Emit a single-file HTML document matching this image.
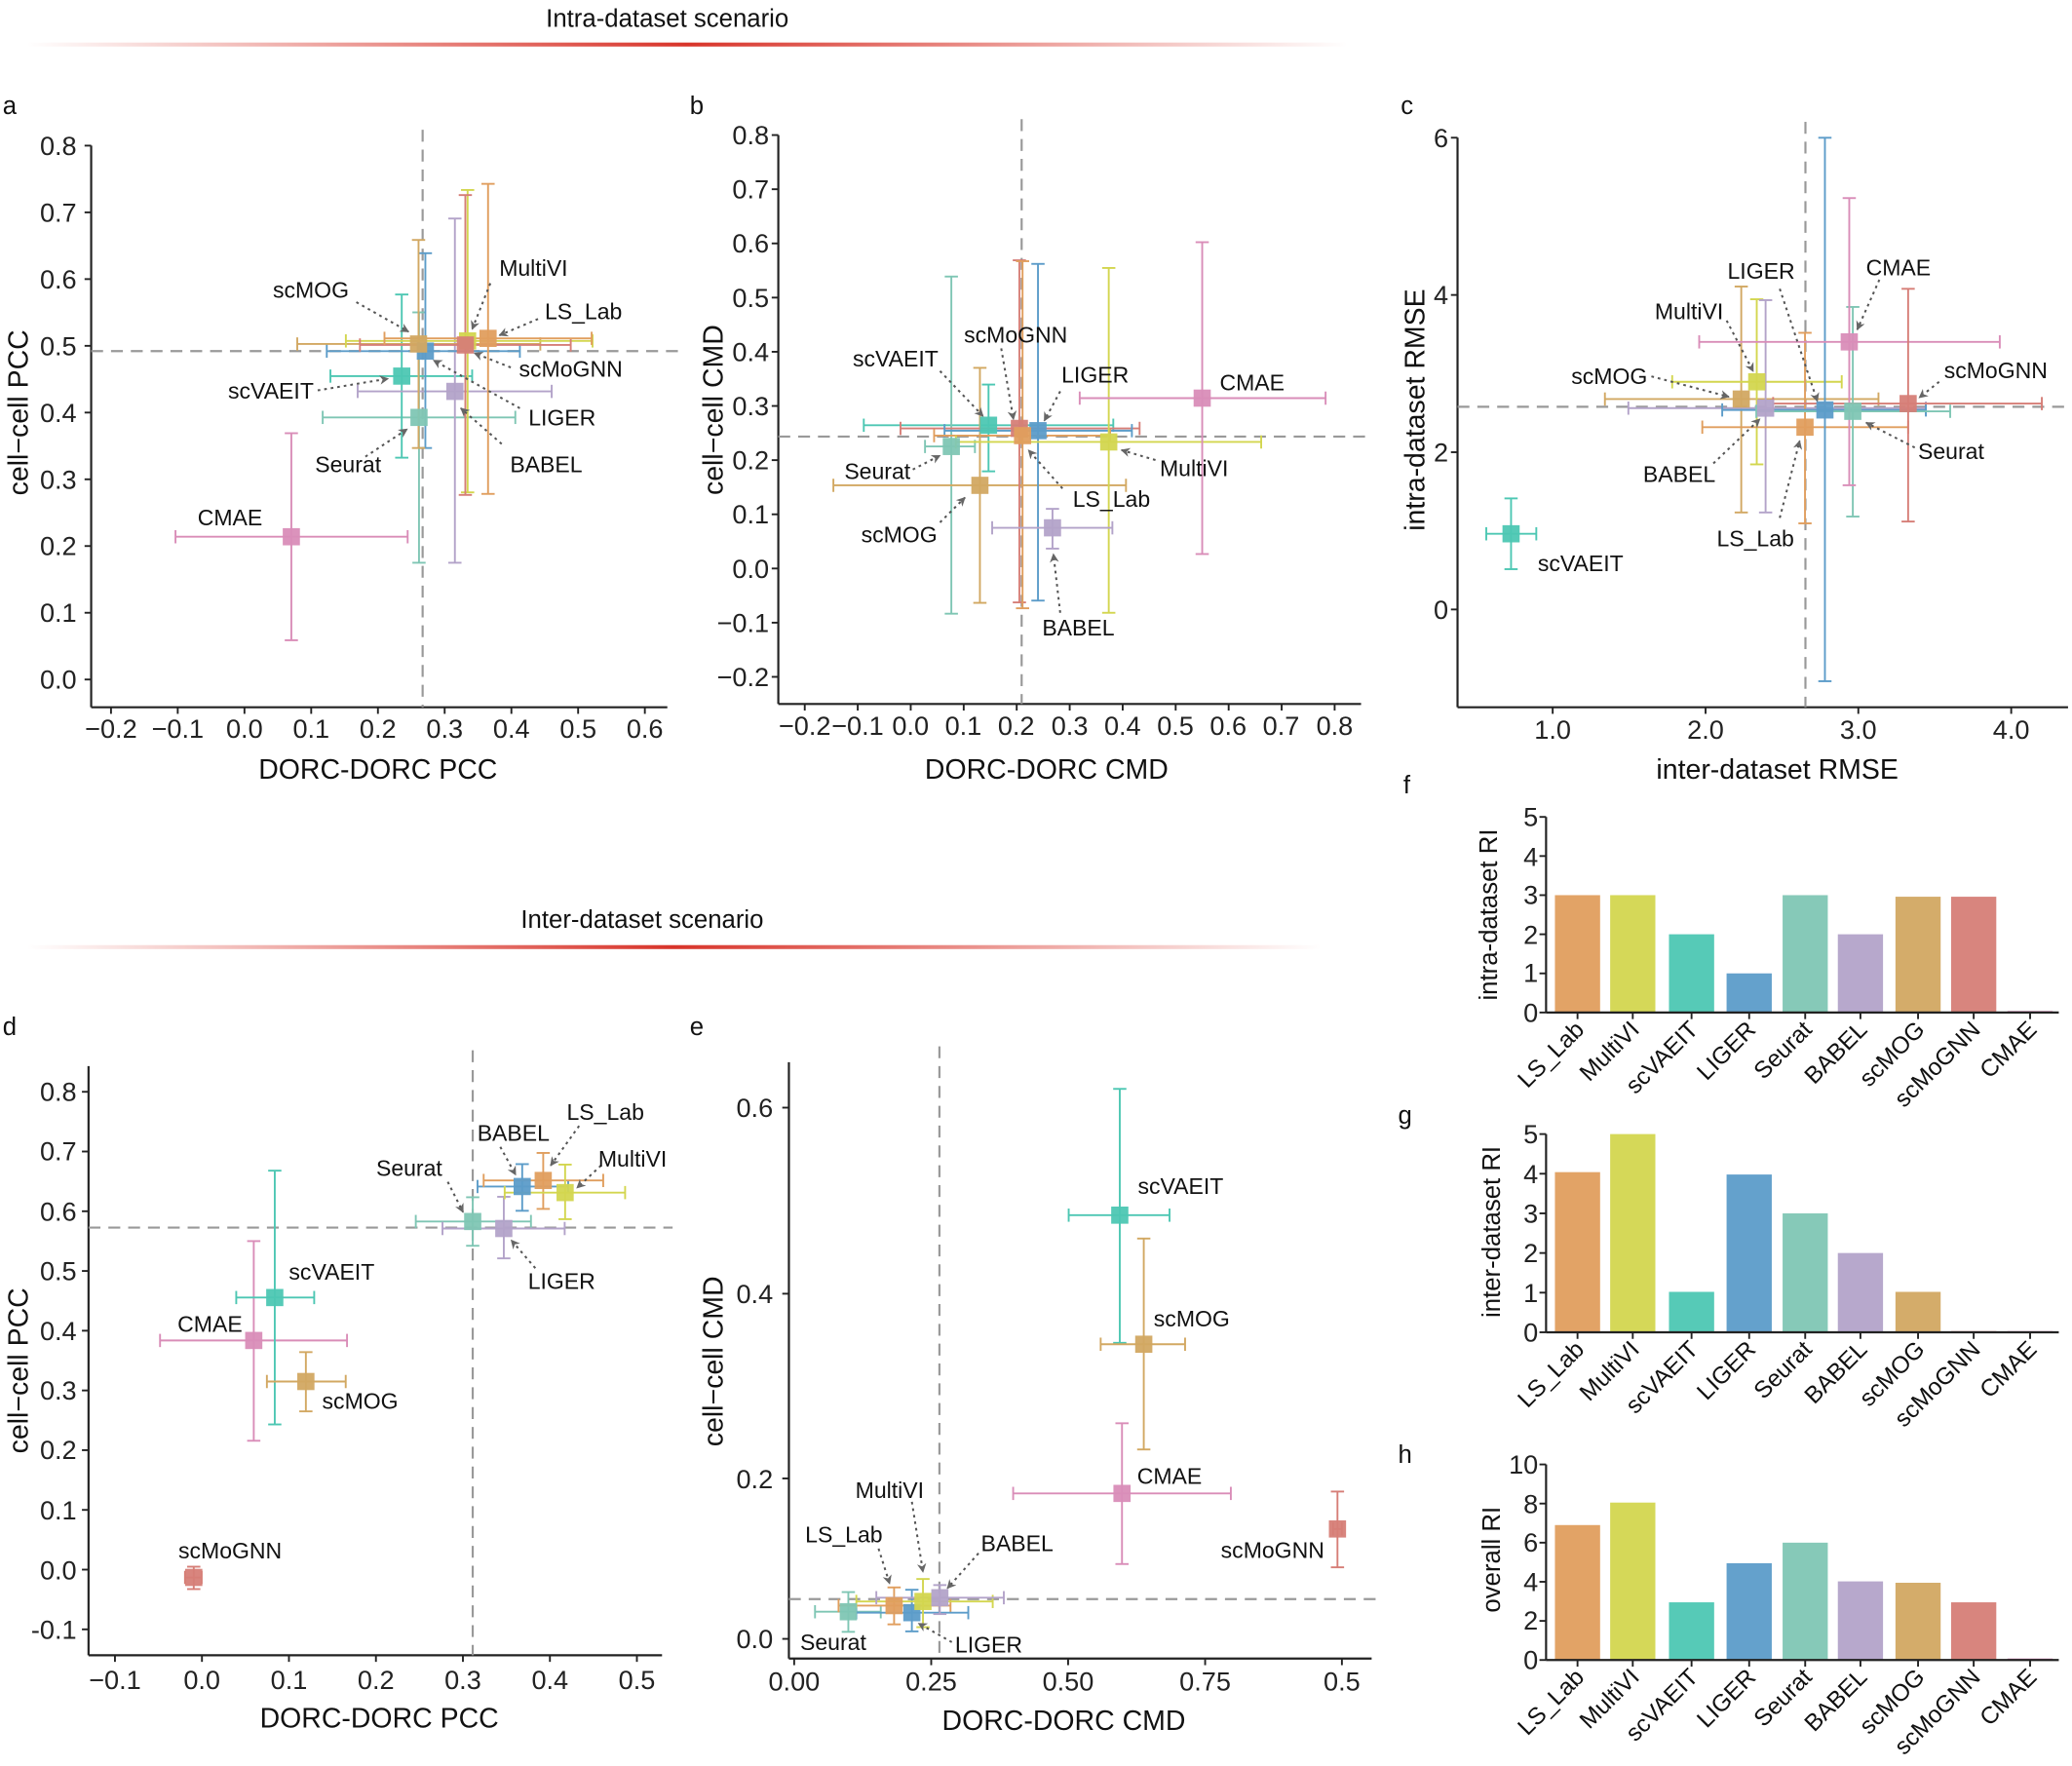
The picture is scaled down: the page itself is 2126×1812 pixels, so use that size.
<!DOCTYPE html>
<html><head><meta charset="utf-8"><style>
body{margin:0;background:#fff}
svg{display:block;font-family:"Liberation Sans",Arial,sans-serif}
.t{font-size:20px;fill:#222}
.lab{font-size:17px;fill:#111}
#bl text{font-size:18px}
.at{font-size:21px;fill:#111}
.pl{font-size:19px;fill:#111}
</style></head><body>
<svg id="s" width="2126" height="1812" viewBox="0 0 1568 1336" xmlns="http://www.w3.org/2000/svg">
<defs>
<linearGradient id="gr" x1="0" x2="1" y1="0" y2="0"><stop offset="0" stop-color="#d8342a" stop-opacity="0"/><stop offset="0.5" stop-color="#d8342a"/><stop offset="1" stop-color="#d8342a" stop-opacity="0"/></linearGradient>
<marker id="ar" viewBox="0 0 10 10" refX="9" refY="5" markerWidth="7" markerHeight="7" orient="auto" markerUnits="userSpaceOnUse"><path d="M0,0 L10,5 L0,10 L3,5 z" fill="#666"/></marker>
</defs>
<rect width="1568" height="1336" fill="#fff"/>
<text x="505" y="20" text-anchor="middle" style="font-size:19px" fill="#111">Intra-dataset scenario</text>
<rect x="20" y="32" width="1000" height="3" fill="url(#gr)"/>
<text x="486" y="702" text-anchor="middle" style="font-size:19px" fill="#111">Inter-dataset scenario</text>
<rect x="20" y="715" width="980" height="3" fill="url(#gr)"/>

<g class="pl">
<text x="2" y="86">a</text><text x="522" y="86">b</text><text x="1060" y="86">c</text><text x="1062" y="600">f</text>
<text x="2" y="783">d</text><text x="522" y="783">e</text><text x="1058" y="850">g</text><text x="1058" y="1107">h</text>
</g>

<g class="at" text-anchor="middle">
<text x="286" y="589">DORC-DORC PCC</text>
<text transform="translate(21,312) rotate(-90)">cell−cell PCC</text>
<text x="792" y="589">DORC-DORC CMD</text>
<text transform="translate(547,310) rotate(-90)">cell−cell CMD</text>
<text x="1345" y="589">inter-dataset RMSE</text>
<text transform="translate(1078,310) rotate(-90)">intra-dataset RMSE</text>
<text x="287" y="1307">DORC-DORC PCC</text>
<text transform="translate(21,1037) rotate(-90)">cell−cell PCC</text>
<text x="805" y="1309">DORC-DORC CMD</text>
<text transform="translate(547,1030) rotate(-90)">cell−cell CMD</text>
<text transform="translate(1133,692) rotate(-90)" style="font-size:19px">intra-dataset RI</text>
<text transform="translate(1135,932) rotate(-90)" style="font-size:19px">inter-dataset RI</text>
<text transform="translate(1135,1180) rotate(-90)" style="font-size:19px">overall RI</text>
</g>

<g class="t" text-anchor="middle">
<text x="84" y="558">−0.2</text><text x="134.5" y="558">−0.1</text><text x="185" y="558">0.0</text><text x="235.5" y="558">0.1</text><text x="286" y="558">0.2</text><text x="336.5" y="558">0.3</text><text x="387" y="558">0.4</text><text x="437.5" y="558">0.5</text><text x="488" y="558">0.6</text>
<text x="609" y="556">−0.2</text><text x="649" y="556">−0.1</text><text x="689" y="556">0.0</text><text x="729" y="556">0.1</text><text x="769" y="556">0.2</text><text x="809.5" y="556">0.3</text><text x="849.5" y="556">0.4</text><text x="889.5" y="556">0.5</text><text x="929.5" y="556">0.6</text><text x="969.5" y="556">0.7</text><text x="1010" y="556">0.8</text>
<text x="1175" y="559">1.0</text><text x="1290.7" y="559">2.0</text><text x="1406.3" y="559">3.0</text><text x="1522" y="559">4.0</text>
<text x="87" y="1278">−0.1</text><text x="152.8" y="1278">0.0</text><text x="218.7" y="1278">0.1</text><text x="284.5" y="1278">0.2</text><text x="350.3" y="1278">0.3</text><text x="416.2" y="1278">0.4</text><text x="482" y="1278">0.5</text>
<text x="601" y="1279">0.00</text><text x="704.7" y="1279">0.25</text><text x="808.3" y="1279">0.50</text><text x="912" y="1279">0.75</text><text x="1015.5" y="1279">0.5</text>
</g>
<g class="t" text-anchor="end">
<text x="58" y="117">0.8</text><text x="58" y="167.5">0.7</text><text x="58" y="218">0.6</text><text x="58" y="268.5">0.5</text><text x="58" y="319">0.4</text><text x="58" y="369.5">0.3</text><text x="58" y="420">0.2</text><text x="58" y="470.5">0.1</text><text x="58" y="521">0.0</text>
<text x="582" y="109">0.8</text><text x="582" y="150">0.7</text><text x="582" y="191">0.6</text><text x="582" y="232">0.5</text><text x="582" y="273">0.4</text><text x="582" y="314">0.3</text><text x="582" y="355">0.2</text><text x="582" y="396">0.1</text><text x="582" y="437">0.0</text><text x="582" y="478">−0.1</text><text x="582" y="519">−0.2</text>
<text x="1096" y="111">6</text><text x="1096" y="230">4</text><text x="1096" y="349">2</text><text x="1096" y="468">0</text>
<text x="58" y="833">0.8</text><text x="58" y="878">0.7</text><text x="58" y="923.5">0.6</text><text x="58" y="968.5">0.5</text><text x="58" y="1014">0.4</text><text x="58" y="1059">0.3</text><text x="58" y="1104">0.2</text><text x="58" y="1149.5">0.1</text><text x="58" y="1195">0.0</text><text x="58" y="1240">-0.1</text>
<text x="585" y="845">0.6</text><text x="585" y="986">0.4</text><text x="585" y="1126">0.2</text><text x="585" y="1247">0.0</text>
<text x="1164" y="625">5</text><text x="1164" y="655">4</text><text x="1164" y="684">3</text><text x="1164" y="714">2</text><text x="1164" y="743">1</text><text x="1164" y="773">0</text>
<text x="1164" y="865">5</text><text x="1164" y="895">4</text><text x="1164" y="925">3</text><text x="1164" y="955">2</text><text x="1164" y="985">1</text><text x="1164" y="1015">0</text>
<text x="1164" y="1115">10</text><text x="1164" y="1145">8</text><text x="1164" y="1174">6</text><text x="1164" y="1204">4</text><text x="1164" y="1233">2</text><text x="1164" y="1263">0</text>
</g>
<g id="plot"></g>

<g class="lab" text-anchor="middle" id="labs">
<text p="a" zx="700" zy="568">scMOG</text><text p="a" zx="1190" zy="525">MultiVI</text><text p="a" zx="1300" zy="610">LS_Lab</text><text p="a" zx="1272" zy="723">scMoGNN</text><text p="a" zx="612" zy="766">scVAEIT</text><text p="a" zx="1253" zy="818">LIGER</text><text p="a" zx="782" zy="910">Seurat</text><text p="a" zx="1218" zy="910">BABEL</text><text p="a" zx="522" zy="1014">CMAE</text>
<text p="b" zx="757" zy="545">scMoGNN</text><text p="b" zx="492" zy="597">scVAEIT</text><text p="b" zx="932" zy="633">LIGER</text><text p="b" zx="1278" zy="650">CMAE</text><text p="b" zx="452" zy="847">Seurat</text><text p="b" zx="1150" zy="840">MultiVI</text><text p="b" zx="968" zy="908">LS_Lab</text><text p="b" zx="500" zy="987">scMOG</text><text p="b" zx="895" zy="1193">BABEL</text>
<text p="c" zx="868" zy="400">LIGER</text><text p="c" zx="1178" zy="393">CMAE</text><text p="c" zx="705" zy="490">MultiVI</text><text p="c" zx="1398" zy="620">scMoGNN</text><text p="c" zx="525" zy="632">scMOG</text><text p="c" zx="1297" zy="798">Seurat</text><text p="c" zx="683" zy="848">BABEL</text><text p="c" zx="855" zy="990">LS_Lab</text><text p="c" zx="460" zy="1045">scVAEIT</text>
<text p="d" zx="533" zy="1110">scMoGNN</text><text p="d" zx="487" zy="625">CMAE</text><text p="d" zx="765" zy="513">scVAEIT</text><text p="d" zx="830" zy="790">scMOG</text><text p="d" zx="942" zy="290">Seurat</text><text p="d" zx="1180" zy="215">BABEL</text><text p="d" zx="1390" zy="170">LS_Lab</text><text p="d" zx="1452" zy="270">MultiVI</text><text p="d" zx="1290" zy="533">LIGER</text>
<text p="e" zx="1115" zy="325">scVAEIT</text><text p="e" zx="1140" zy="608">scMOG</text><text p="e" zx="1090" zy="945">CMAE</text><text p="e" zx="1322" zy="1103">scMoGNN</text><text p="e" zx="460" zy="975">MultiVI</text><text p="e" zx="357" zy="1070">LS_Lab</text><text p="e" zx="747" zy="1088">BABEL</text><text p="e" zx="333" zy="1300">Seurat</text><text p="e" zx="683" zy="1305">LIGER</text>
</g>
<g id="bl" class="lab" text-anchor="end">
<text>LS_Lab</text><text>MultiVI</text><text>scVAEIT</text><text>LIGER</text><text>Seurat</text><text>BABEL</text><text>scMOG</text><text>scMoGNN</text><text>CMAE</text>
<text>LS_Lab</text><text>MultiVI</text><text>scVAEIT</text><text>LIGER</text><text>Seurat</text><text>BABEL</text><text>scMOG</text><text>scMoGNN</text><text>CMAE</text>
<text>LS_Lab</text><text>MultiVI</text><text>scVAEIT</text><text>LIGER</text><text>Seurat</text><text>BABEL</text><text>scMOG</text><text>scMoGNN</text><text>CMAE</text>
</g>
</svg>
<script>
var NS="http://www.w3.org/2000/svg",G=document.getElementById("plot");
function el(t,a,par){var e=document.createElementNS(NS,t);for(var k in a)e.setAttribute(k,a[k]);(par||G).appendChild(e);return e;}
var P={a:[-5.4,0.3438,0,0.3859],b:[508.8,0.3433,66.8,0.342],c:[1042,0.335,67.3,0.3433],d:[-2.5,0.3314,781.2,0.353],e:[518.6,0.3362,782.4,0.3539]};
function X(p,z){return P[p][0]+z*P[p][1];}function Y(p,z){return P[p][2]+z*P[p][3];}
var C={LS:"#E09E5E",MV:"#D3D64F",VA:"#4DC7B3",LI:"#5C9CC9",SE:"#7FC6B4",BA:"#B3A3C9",MO:"#D2A862",GN:"#D67E77",CM:"#D98DB8"};
function line(x1,y1,x2,y2,c,w,d){var a={x1:x1,y1:y1,x2:x2,y2:y2,stroke:c,"stroke-width":w||1.4};if(d)a["stroke-dasharray"]=d;return el("line",a);}
var AX={a:[69,110,505,535],b:[589,102,1030,532.5],c:[1103,104,1565,535],d:[67,806.6,501,1252.4],e:[597,803.6,1038,1254.9]};
for(var k in AX){var q=AX[k];line(q[0],q[1],q[0],q[3],"#222",1.6);line(q[0],q[3],q[2],q[3],"#222",1.6);}
function tx(xs,y){xs.forEach(function(x){line(x,y,x,y+5,"#222",1.4);});}
function ty(ys,x){ys.forEach(function(y){line(x-5,y,x,y,"#222",1.4);});}
var r=[];for(var i=0;i<9;i++)r.push(84+50.5*i);tx(r,535);r=[];for(i=0;i<9;i++)r.push(110+50.5*i);ty(r,69);
r=[];for(i=0;i<11;i++)r.push(609+40.1*i);tx(r,532.5);r=[];for(i=0;i<11;i++)r.push(102+41*i);ty(r,589);
tx([1175,1290.7,1406.3,1522],535);ty([104,223,342,461],1103);
r=[];for(i=0;i<7;i++)r.push(87+65.83*i);tx(r,1252.4);r=[];for(i=0;i<10;i++)r.push(826+45.2*i);ty(r,67);
tx([601,704.7,808.3,912,1015.5],1254.9);ty([838,978.8,1118.6,1240],597);
var DL={a:[946,688],b:[770,770],c:[968,700],d:[1087,418],e:[572,1208]};
for(k in DL){var q=AX[k];line(X(k,DL[k][0]),q[1]-12,X(k,DL[k][0]),q[3],"#999",1.6,"9,6");line(q[0],Y(k,DL[k][1]),q[2]+8,Y(k,DL[k][1]),"#999",1.6,"9,6");}
var D={
a:[["CM",657,1052,402,913,849,1255],["SE",938,818,726,1150,612,1103],["VA",900,737,743,1055,577,897],["BA",1017,767,803,1230,428,1103],["LI",952,688,735,1160,496,878],["MO",937,674,670,1205,470,878],["MV",1045,668,777,1320,372,965],["GN",1040,676,808,1272,382,970],["LS",1090,663,862,1318,360,968]],
b:[["VA",697,745,422,972,655,847],["SE",615,792,557,667,416,1162],["MO",678,878,355,1000,618,1138],["GN",765,752,503,1030,380,1137],["LI",806,757,600,1013,388,1133],["LS",772,768,577,965,382,1150],["MV",962,782,625,1298,397,1160],["CM",1168,685,898,1440,340,1030],["BA",838,972,705,970,930,1018]],
c:[["VA",303,980,247,360,902,1058],["MO",823,683,515,1133,435,933],["MV",858,645,667,1050,463,827],["BA",878,703,568,1240,465,933],["LS",967,745,735,1200,537,957],["LI",1012,707,780,1240,107,1305],["SE",1075,710,857,1295,480,942],["CM",1067,557,728,1407,240,873],["GN",1200,693,895,1502,440,953]],
d:[["GN",450,1168,430,468,1145,1193],["CM",587,660,373,800,447,875],["VA",635,568,547,725,296,840],["MO",706,748,617,797,685,812],["SE",1087,405,957,1220,353,457],["BA",1158,420,1018,1297,352,484],["LI",1200,330,1098,1305,282,382],["LS",1248,317,1112,1385,258,378],["MV",1298,343,1160,1435,283,400]],
e:[["VA",978,387,863,1090,117,660],["MO",1032,663,935,1125,437,888],["CM",983,982,738,1228,832,1133],["GN",1468,1058,1458,1478,978,1140],["SE",367,1235,292,440,1193,1278],["LS",470,1222,345,597,1183,1262],["LI",510,1237,385,637,1188,1277],["MV",535,1213,385,692,1165,1268],["BA",573,1205,430,717,1178,1240]]};
var sq=[];
for(k in D){D[k].forEach(function(p){var c=C[p[0]],sx=X(k,p[1]),sy=Y(k,p[2]),x1=X(k,p[3]),x2=X(k,p[4]),y1=Y(k,p[5]),y2=Y(k,p[6]);
line(x1,sy,x2,sy,c,1.4);line(x1,sy-5,x1,sy+5,c,1.4);line(x2,sy-5,x2,sy+5,c,1.4);
line(sx,y1,sx,y2,c,1.4);line(sx-5,y1,sx+5,y1,c,1.4);line(sx-5,y2,sx+5,y2,c,1.4);
sq.push([sx,sy,c]);});}
sq.forEach(function(s){el("rect",{x:s[0]-6.5,y:s[1]-6.5,width:13,height:13,fill:s[2],"fill-opacity":0.95});});
var A={a:[[800,592,915,650],[1095,555,1055,645],[1200,625,1115,657],[1140,720,1060,692],[715,765,870,742],[1160,800,970,706],[820,895,912,841],[1120,870,1030,800]],
b:[[590,625,685,725],[725,575,752,732],[855,670,820,735],[530,843,590,812],[1065,822,990,800],[860,885,785,800],[590,960,645,905],[855,1160,840,1030]],
c:[[910,440,995,688],[1135,420,1085,530],[790,510,850,622],[1270,645,1225,680],[620,633,795,678],[1215,790,1105,735],[760,825,865,727],[910,945,955,775]],
d:[[1030,320,1065,385],[1150,245,1185,305],[1330,200,1265,285],[1380,285,1325,333],[1230,505,1175,445]],
e:[[510,1000,535,1150],[435,1100,460,1175],[660,1110,590,1185],[600,1300,525,1260]]};
for(k in A){A[k].forEach(function(a){var l=line(X(k,a[0]),Y(k,a[1]),X(k,a[2]),Y(k,a[3]),"#555",1.5,"2,3");l.setAttribute("marker-end","url(#ar)");});}
Array.prototype.forEach.call(document.querySelectorAll("#labs text"),function(t){var p=t.getAttribute("p");t.setAttribute("x",X(p,+t.getAttribute("zx")));t.setAttribute("y",Y(p,+t.getAttribute("zy"))+6);});
var BX=[1176.7,1218.5,1263,1306.6,1349,1390.8,1434.4,1476.5,1519.2],BW=34.2;
var cols=["LS","MV","VA","LI","SE","BA","MO","GN","CM"];
var BP=[{b:766,t:618,max:5,v:[3,3,2,1,3,2,2.96,2.96,0.04]},{b:1008,t:858,max:5,v:[4.04,5,1.02,3.98,3,2,1.02,0.03,0.03]},{b:1256,t:1108,max:10,v:[6.9,8.05,2.95,4.95,6,4.02,3.95,2.95,0.08]}];
var bl=document.querySelectorAll("#bl text"),n=0;
BP.forEach(function(g){var h=g.b-g.t;g.v.forEach(function(v,i){var hh=v/g.max*h;el("rect",{x:BX[i],y:g.b-hh,width:BW,height:hh,fill:C[cols[i]],"fill-opacity":0.95});
var cx=BX[i]+BW/2;line(cx,g.b,cx,g.b+5,"#222",1.4);var t=bl[n++];t.setAttribute("transform","translate("+(cx+6)+","+(g.b+14)+") rotate(-45)");});
line(1170,g.t,1170,g.b,"#222",1.6);line(1170,g.b,1558,g.b,"#222",1.6);
for(var j=0;j<=5;j++){var y=g.b-h*j/5;line(1165,y,1170,y,"#222",1.4);}});
</script>
</body></html>
